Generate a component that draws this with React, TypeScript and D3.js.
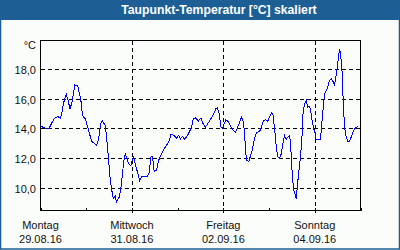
import React from "react";
import * as d3 from "d3";

// Dew point readings: hours since Monday 29.08.16 00:00, and °C
const hourOffsets = [
  0, 1.5, 4.5, 6, 7.5, 9, 10.5, 11, 12, 13.5, 14.5, 15.5, 16.5, 17.5, 18, 19.5, 20.5, 21.5, 22, 23.5,
  25, 26, 27, 28.5, 29.5, 30.5, 31.5, 32.5, 34, 34.7, 35.7, 36.4, 37.3, 38.2, 39.2, 39.9, 41.3, 42.2,
  43.1, 43.9, 44.5, 45.7, 46.6, 47.4, 48.3, 48.8, 50, 50.9, 52.1, 53.2, 56.2, 57.1, 57.9, 58.8, 59.7,
  60.9, 62, 63.2, 64.9, 66.5, 67.6, 68.6, 70, 71.4, 72.5, 73.5, 74.6, 75.4, 76.7, 78.1, 79.3, 80.2,
  81.4, 82.8, 84.2, 85.4, 86.6, 88, 89.4, 90.7, 92, 92.8, 93.8, 94.7, 95.6, 96.2, 97.3, 98.5, 99.8,
  101, 102.4, 103.3, 104.5, 105.5, 106.4, 107.1, 107.6, 108.2, 109.4, 110.3, 111.1, 112, 112.9, 113.8,
  115, 116, 116.9, 118.1, 119.3, 120.4, 121.3, 122, 122.9, 123.7, 124.6, 125.5, 126.4, 127.2, 128.1,
  129, 129.8, 130.6, 131.3, 131.8, 132.5, 133, 133.9, 134.2, 134.8, 135.5, 136.3, 137.2, 137.7, 138.6,
  139.5, 140.3, 141.2, 141.8, 142.6, 143.5, 144.2, 144.7, 147, 147.4, 148.2, 149.1, 150, 150.8, 151.7,
  152.6, 153.5, 154.4, 154.9, 155.6, 156.1, 156.6, 157.1, 157.9, 158.4, 158.9, 159.6, 160.5, 161.3,
  162.2, 163.1, 164.3, 165.3, 166.5,
];

const dewPoint = [
  14.2, 14.05, 14.0, 14.4, 14.7, 14.8, 14.7, 14.9, 15.65, 16.3, 15.87, 15.3, 15.75, 16.5, 16.9, 16.87, 16.3, 15.65, 14.87, 14.65,
  14.0, 13.53, 13.13, 13.0, 12.87, 13.3, 14.3, 14.5, 14.2, 13.42, 11.98, 10.87, 9.98, 9.31, 9.49, 9.09, 9.42, 9.98,
  11.09, 11.98, 12.31, 11.87, 11.58, 11.53, 11.98, 12.09, 11.53, 11.09, 10.53, 10.8, 10.8, 11.09, 12.09, 12.13, 11.13,
  11.2, 11.87, 12.2, 12.64, 12.95, 13.2, 13.64, 13.53, 13.36, 13.53, 13.31, 13.47, 13.27, 13.42, 13.76, 14.09, 14.64,
  14.71, 14.49, 14.69, 14.31, 14.09, 14.36, 14.64, 14.91, 15.31, 15.38, 14.98, 14.09, 13.98, 14.24, 14.58, 14.47, 14.15,
  13.9, 13.76, 14.02, 14.42, 14.76, 14.47, 13.76, 12.64, 11.87, 11.8, 12.2, 12.53, 13.09, 13.58, 13.76,
  13.8, 14.09, 14.49, 14.6, 14.49, 14.8, 15.04, 14.98, 13.98, 12.87, 12.09, 11.98, 12.31, 12.98, 13.53,
  13.27, 13.42, 13.53, 13.09, 11.64, 10.42, 9.87, 9.5, 9.31, 10.09, 10.98, 11.87, 13.2, 14.87, 15.65,
  15.87, 15.42, 15.47, 15.2, 14.53, 13.98, 13.64, 13.24, 13.24, 13.87, 15.09, 16.31, 16.53, 16.75, 17.2,
  17.31, 17.15, 16.93, 17.31, 17.87, 18.42, 18.98, 19.31, 18.53, 17.64, 15.87, 14.09, 13.42, 13.15,
  13.15, 13.42, 13.82, 14.04, 14.13,
];

const yTicks = [10, 12, 14, 16, 18];
const dayTicks = ["2016-08-29", "2016-08-30", "2016-08-31", "2016-09-01", "2016-09-02", "2016-09-03", "2016-09-04", "2016-09-05"];
const labelDays = ["2016-08-29", "2016-08-31", "2016-09-02", "2016-09-04"];
const dayNames = ["Montag", "Mittwoch", "Freitag", "Sonntag"];
const titleText = "Taupunkt-Temperatur [°C] skaliert";
const unitText = "°C";

const W = 400;
const H = 250;
const left = 40.5;
const right = 360.5;
const top = 40.5;
const bottom = 210.5;
const FONT = "'Liberation Sans', Arial, sans-serif";

export default function App() {
  const parseDay = d3.timeParse("%Y-%m-%d");
  const fmtDate = d3.timeFormat("%d.%m.%y");
  const start = parseDay(dayTicks[0]) as Date;
  const end = parseDay(dayTicks[dayTicks.length - 1]) as Date;

  const x = d3.scaleTime().domain([start, end]).range([left, right]);
  const y = d3.scaleLinear().domain([8.53, 19.87]).range([bottom, top]);

  const points = hourOffsets.map((h, i) => ({
    t: d3.timeMinute.offset(start, Math.round(h * 60)),
    v: dewPoint[i],
  }));

  const line = d3
    .line<{ t: Date; v: number }>()
    .x((d) => x(d.t))
    .y((d) => y(d.v));

  const fmtY = (v: number) => d3.format(".1f")(v).replace(".", ",");

  const blue = "#1d5f95";

  return (
    <svg
      width={W}
      height={H}
      style={{ position: "absolute", left: 0, top: 0, display: "block" }}
      fontFamily={FONT}
    >
      <rect x={0} y={0} width={W} height={H} fill="#fbfdfb" />
      <rect x={0} y={0} width={W} height={20} fill={blue} />
      <rect x={0.5} y={0.5} width={W - 1} height={H - 1.5} fill="none" stroke={blue} strokeWidth={1.5} />
      <text
        x={219}
        y={14}
        fill="#ffffff"
        fontWeight="bold"
        fontSize={12.2}
        textAnchor="middle"
      >
        {titleText}
      </text>

      {/* horizontal grid */}
      {yTicks.map((v) => (
        <line
          key={"gy" + v}
          x1={left}
          x2={right}
          y1={Math.round(y(v)) + 0.5}
          y2={Math.round(y(v)) + 0.5}
          stroke="#000"
          strokeDasharray="4,3"
          shapeRendering="crispEdges"
        />
      ))}

      {/* vertical grid at labelled days */}
      {labelDays.slice(1).map((d) => {
        const px = Math.round(x(parseDay(d) as Date)) + 0.5;
        return (
          <line
            key={"gx" + d}
            x1={px}
            x2={px}
            y1={top}
            y2={bottom + 2}
            stroke="#000"
            strokeDasharray="4,3"
            shapeRendering="crispEdges"
          />
        );
      })}

      {/* day ticks */}
      {dayTicks.map((d) => {
        const px = Math.round(x(parseDay(d) as Date)) + 0.5;
        return (
          <line
            key={"t" + d}
            x1={px}
            x2={px}
            y1={bottom - 3}
            y2={bottom}
            stroke="#000"
            shapeRendering="crispEdges"
          />
        );
      })}

      {/* frame */}
      <rect
        x={left}
        y={top}
        width={right - left}
        height={bottom - top}
        fill="none"
        stroke="#000"
        shapeRendering="crispEdges"
      />

      <path
        d={line(points) ?? ""}
        fill="none"
        stroke="#0000ff"
        strokeWidth={1}
        shapeRendering="crispEdges"
      />

      {/* y labels */}
      <text x={36} y={49} fontSize={11} textAnchor="end" fill="#111">
        {unitText}
      </text>
      {yTicks.map((v) => (
        <text key={"ly" + v} x={36} y={Math.round(y(v)) + 5} fontSize={11} textAnchor="end" fill="#111">
          {fmtY(v)}
        </text>
      ))}

      {/* x labels */}
      {labelDays.map((d, i) => {
        const date = parseDay(d) as Date;
        const px = x(date);
        return (
          <g key={"lx" + d}>
            <text x={px} y={229} fontSize={11} textAnchor="middle" fill="#111">
              {dayNames[i]}
            </text>
            <text x={px} y={243} fontSize={11} textAnchor="middle" fill="#111">
              {fmtDate(date)}
            </text>
          </g>
        );
      })}
    </svg>
  );
}
